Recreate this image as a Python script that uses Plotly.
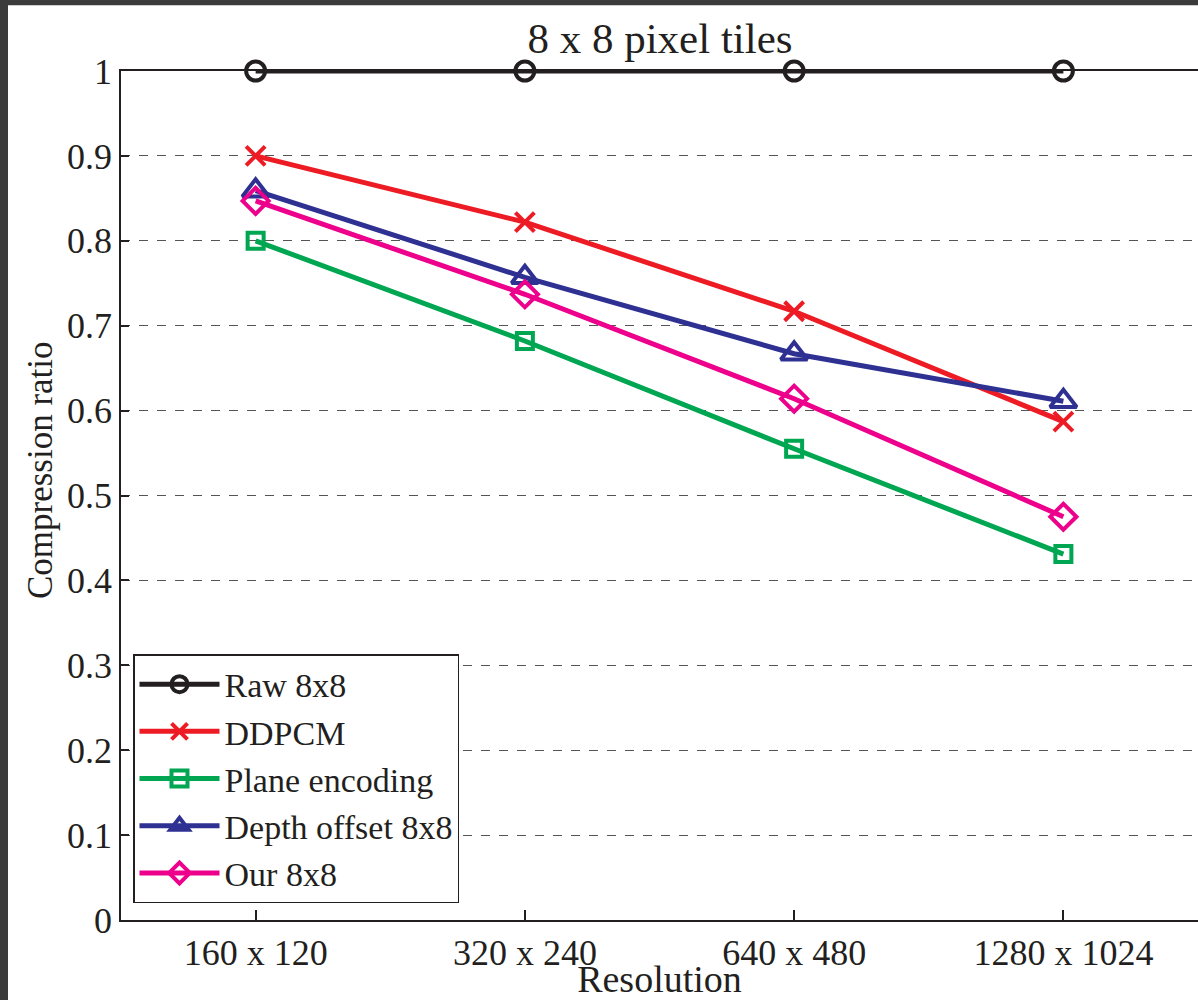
import plotly.graph_objects as go

categories = ["160 x 120", "320 x 240", "640 x 480", "1280 x 1024"]
raw_8x8 = [1.0, 1.0, 1.0, 1.0]
ddpcm = [0.900, 0.822, 0.717, 0.587]
plane_encoding = [0.800, 0.682, 0.555, 0.431]
depth_offset_8x8 = [0.859, 0.757, 0.667, 0.611]
our_8x8 = [0.847, 0.737, 0.614, 0.475]
y_tick_vals = [0, 0.1, 0.2, 0.3, 0.4, 0.5, 0.6, 0.7, 0.8, 0.9, 1.0]
y_tick_text = ["0", "0.1", "0.2", "0.3", "0.4", "0.5", "0.6", "0.7", "0.8", "0.9", "1"]

FONT = "Liberation Serif, Times New Roman, serif"
INK = "#231f20"
FRAME = "#3b3b3b"
xpos = [1, 2, 3, 4]

series = [
    ("Raw 8x8", raw_8x8, INK, "circle-open", 19, 5),
    ("DDPCM", ddpcm, "#ed1c24", "x-thin-open", 19, 5),
    ("Plane encoding", plane_encoding, "#00a651", "square-open", 16, 5),
    ("Depth offset 8x8", depth_offset_8x8, "#2e3192", "triangle-up-open", 23, 5),
    ("Our 8x8", our_8x8, "#ec008c", "diamond-open", 20, 5),
]

fig = go.Figure()
for name, vals, color, sym, size, lw in series:
    fig.add_trace(go.Scatter(
        x=xpos, y=vals, name=name, mode="lines+markers",
        line=dict(color=color, width=lw),
        marker=dict(symbol=sym, size=size, color=color,
                    line=dict(color=color, width=4)),
        cliponaxis=False,
    ))

W, H = 1198, 1000
L, T, B = 121, 71, 78
pw = W - L
ph = H - T - B

fig.update_layout(
    width=W, height=H,
    margin=dict(l=L, r=0, t=T, b=B),
    paper_bgcolor="white",
    plot_bgcolor="white",
    font=dict(family=FONT, size=36, color=INK),
    showlegend=True,
    legend=dict(
        x=(133 - L) / pw, y=(922 - 905) / ph, xanchor="left", yanchor="bottom",
        bgcolor="white", bordercolor=INK, borderwidth=1.5,
        font=dict(family=FONT, size=34, color=INK),
        itemwidth=80, tracegroupgap=0,
    ),
    xaxis=dict(
        range=[0.5, 4.5], tickmode="array", tickvals=xpos, ticktext=categories,
        showline=True, linecolor=INK, linewidth=1.5, mirror=True,
        ticks="inside", ticklen=10, tickcolor=INK, tickwidth=1.5,
        showgrid=False, zeroline=False,
        tickfont=dict(family=FONT, size=36, color=INK),
        title=dict(text="Resolution", standoff=0,
                   font=dict(family=FONT, size=38, color=INK)),
    ),
    yaxis=dict(
        range=[0, 1], tickmode="array", tickvals=y_tick_vals, ticktext=y_tick_text,
        showline=True, linecolor=INK, linewidth=1.5, mirror=False,
        ticks="inside", ticklen=8, tickcolor=INK, tickwidth=1.5,
        showgrid=True, gridcolor="#555555", gridwidth=1, griddash="dash",
        zeroline=False,
        tickfont=dict(family=FONT, size=36, color=INK),
    ),
    title=dict(text="8 x 8 pixel tiles", x=660 / W, xanchor="center",
               y=1 - 38 / H, yanchor="middle",
               font=dict(family=FONT, size=43, color=INK)),
)

# y-axis title placed like the reference (slightly above the axis centre)
fig.add_annotation(text="Compression ratio", textangle=-90, showarrow=False,
                   xref="paper", yref="paper",
                   x=(40 - L) / pw, y=(922 - 471) / ph,
                   xanchor="center", yanchor="middle",
                   font=dict(family=FONT, size=35, color=INK))

# dark frame strips on the top and left edges of the picture
fig.add_shape(type="rect", xref="paper", yref="paper",
              x0=-L / pw - 0.01, x1=1.01, y0=(H - B - 5) / ph, y1=(H - B) / ph + 0.01,
              fillcolor=FRAME, line=dict(width=0), layer="above")
fig.add_shape(type="rect", xref="paper", yref="paper",
              x0=-L / pw - 0.01, x1=(8 - L) / pw, y0=-B / ph - 0.01, y1=(H - B) / ph + 0.01,
              fillcolor=FRAME, line=dict(width=0), layer="above")

fig.write_html(
    "out.html",
    post_script=(
        "document.body.style.margin='0px';"
        "document.body.style.overflow='hidden';"
        "document.documentElement.style.overflow='hidden';"
    ),
    config={"displayModeBar": False},
)
